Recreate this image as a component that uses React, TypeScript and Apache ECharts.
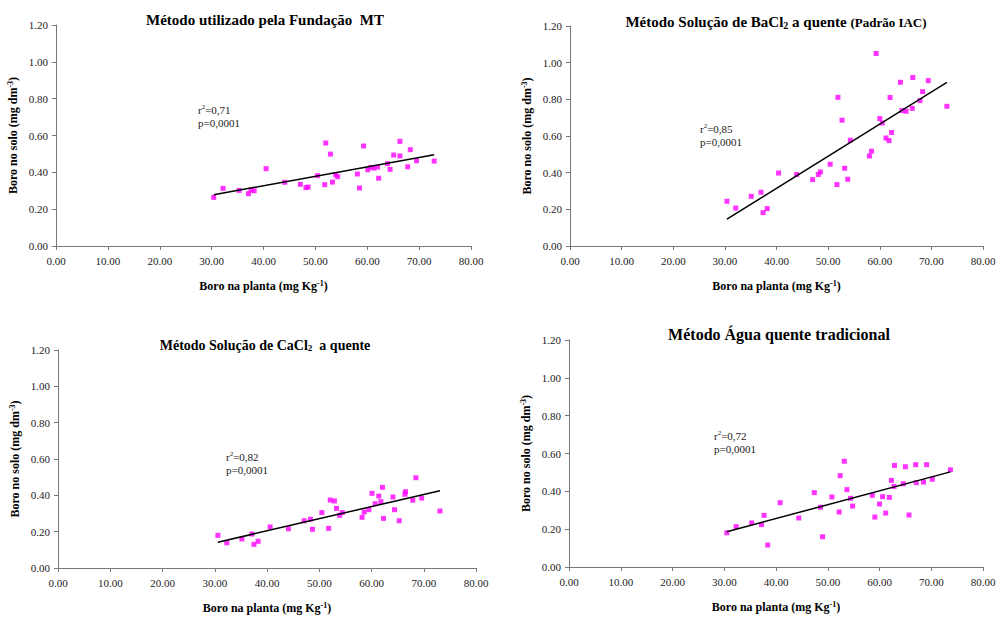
import React, { useEffect, useRef } from "react";
import * as echarts from "echarts";

const FONT = "Liberation Serif";

// Panel 1: Método utilizado pela Fundação MT
const p1x = [30.4, 32.2, 35.3, 37.1, 37.6, 38.2, 40.5, 44.1, 47.1, 48.2, 48.6, 50.4, 51.8, 52.0, 52.9, 53.3, 53.9, 54.3, 58.1, 58.5, 59.3, 60.1, 60.7, 61.3, 62.0, 62.2, 63.9, 64.4, 65.1, 66.3, 66.3, 67.8, 68.3, 69.5, 72.9];
const p1y = [0.264, 0.313, 0.302, 0.284, 0.304, 0.300, 0.420, 0.346, 0.335, 0.317, 0.320, 0.382, 0.333, 0.559, 0.499, 0.347, 0.387, 0.376, 0.391, 0.315, 0.543, 0.414, 0.427, 0.423, 0.429, 0.368, 0.447, 0.416, 0.494, 0.489, 0.568, 0.430, 0.523, 0.463, 0.461];

// Panel 2: Método Solução de BaCl2 a quente (Padrão IAC)
const p2x = [30.4, 32.1, 35.1, 37.0, 37.4, 38.2, 40.4, 43.9, 47.0, 48.1, 48.5, 50.4, 51.7, 51.9, 52.7, 53.2, 53.8, 54.3, 58.0, 58.4, 59.3, 60.0, 60.5, 61.2, 61.8, 62.3, 62.0, 64.0, 64.3, 65.1, 66.4, 66.3, 67.8, 68.3, 69.4, 73.0];
const p2y = [0.244, 0.207, 0.271, 0.293, 0.182, 0.204, 0.398, 0.390, 0.362, 0.390, 0.404, 0.446, 0.335, 0.811, 0.686, 0.424, 0.364, 0.577, 0.491, 0.517, 1.050, 0.695, 0.671, 0.589, 0.575, 0.619, 0.810, 0.893, 0.739, 0.735, 0.919, 0.751, 0.793, 0.842, 0.902, 0.762];

// Panel 3: Método Solução de CaCl2 a quente
const p3x = [30.6, 32.3, 35.2, 37.1, 37.5, 38.3, 40.6, 44.1, 47.1, 48.3, 48.7, 50.5, 51.8, 52.1, 52.9, 53.3, 53.9, 54.4, 58.2, 58.6, 59.5, 60.1, 60.7, 61.4, 61.8, 62.1, 62.3, 64.1, 64.4, 65.3, 66.4, 66.5, 67.9, 68.5, 69.6, 73.1];
const p3y = [0.180, 0.139, 0.160, 0.187, 0.130, 0.147, 0.226, 0.216, 0.260, 0.268, 0.213, 0.305, 0.218, 0.374, 0.369, 0.328, 0.290, 0.305, 0.279, 0.308, 0.321, 0.411, 0.354, 0.396, 0.365, 0.444, 0.273, 0.391, 0.321, 0.260, 0.406, 0.420, 0.373, 0.497, 0.385, 0.314];

// Panel 4: Método Água quente tradicional
const p4x = [30.5, 32.3, 35.3, 37.2, 37.7, 38.4, 40.8, 44.4, 47.4, 48.6, 49.0, 50.8, 52.2, 52.4, 53.2, 53.7, 54.4, 54.8, 58.6, 59.1, 60.0, 60.6, 61.2, 61.9, 62.3, 62.8, 62.9, 64.6, 65.0, 65.7, 67.0, 67.1, 68.5, 69.1, 70.2, 73.7];
const p4y = [0.181, 0.213, 0.233, 0.224, 0.273, 0.116, 0.340, 0.259, 0.393, 0.316, 0.160, 0.370, 0.291, 0.483, 0.559, 0.409, 0.363, 0.322, 0.379, 0.264, 0.333, 0.372, 0.285, 0.368, 0.458, 0.426, 0.537, 0.440, 0.530, 0.275, 0.541, 0.446, 0.449, 0.541, 0.464, 0.514];

const xTicks = [0, 10, 20, 30, 40, 50, 60, 70, 80];
const yTicks = [0, 0.2, 0.4, 0.6, 0.8, 1.0, 1.2];

const stats = ["0,71", "0,85", "0,82", "0,72"];
const pValues = ["0,0001", "0,0001", "0,0001", "0,0001"];

function fit(xs: number[], ys: number[]) {
  const n = xs.length;
  const mx = xs.reduce((a, b) => a + b, 0) / n;
  const my = ys.reduce((a, b) => a + b, 0) / n;
  let sxy = 0, sxx = 0;
  for (let i = 0; i < n; i++) {
    sxy += (xs[i] - mx) * (ys[i] - my);
    sxx += (xs[i] - mx) * (xs[i] - mx);
  }
  const b = sxy / sxx;
  const a = my - b * mx;
  const x0 = Math.min(...xs);
  const x1 = Math.max(...xs);
  return [[x0, a + b * x0], [x1, a + b * x1]];
}

const panels = [
  { xs: p1x, ys: p1y, grid: { left: 56, top: 25, width: 415, height: 221 } },
  { xs: p2x, ys: p2y, grid: { left: 570, top: 26, width: 413, height: 220 } },
  { xs: p3x, ys: p3y, grid: { left: 58, top: 350, width: 418, height: 218 } },
  { xs: p4x, ys: p4y, grid: { left: 569, top: 340, width: 414, height: 227 } },
];

const titleRich = (size: number) => ({
  t: { fontFamily: FONT, fontWeight: "bold", fontSize: size, fill: "#000" },
  sub: { fontFamily: FONT, fontWeight: "bold", fontSize: Math.round(size * 0.65), fill: "#000", verticalAlign: "bottom", padding: [6, 0, 0, 0] },
  s: { fontFamily: FONT, fontWeight: "bold", fontSize: 13, fill: "#000" },
});

export default function App() {
  const ref = useRef<HTMLDivElement>(null);
  useEffect(() => {
    if (!ref.current) return;
    const chart = echarts.init(ref.current, null, { renderer: "svg" });
    const nameRich = {
      b: { fontFamily: FONT, fontWeight: "bold", fontSize: 12, color: "#000", lineHeight: 14 },
      sup: { fontFamily: FONT, fontWeight: "bold", fontSize: 8, color: "#000", verticalAlign: "top", lineHeight: 14, padding: [0, 0, 6, 0] },
    };
    const grids: any[] = [];
    const xAxes: any[] = [];
    const yAxes: any[] = [];
    const series: any[] = [];
    panels.forEach((p, i) => {
      grids.push({ ...p.grid, containLabel: false });
      xAxes.push({
        gridIndex: i,
        type: "value",
        min: xTicks[0],
        max: xTicks[xTicks.length - 1],
        interval: 10,
        axisLine: { lineStyle: { color: "#777", width: 1 } },
        axisTick: { show: true, length: 4, lineStyle: { color: "#777" } },
        splitLine: { show: false },
        axisLabel: { formatter: (v: number) => v.toFixed(2), color: "#222", fontSize: 11, fontFamily: FONT, margin: 9 },
        name: "{b|Boro na planta (mg Kg}{sup|-1}{b|)}",
        nameLocation: "middle",
        nameGap: 33,
        nameTextStyle: { fontFamily: FONT, rich: nameRich },
      });
      yAxes.push({
        gridIndex: i,
        type: "value",
        min: yTicks[0],
        max: yTicks[yTicks.length - 1],
        interval: 0.2,
        axisLine: { show: true, lineStyle: { color: "#777", width: 1 } },
        axisTick: { show: true, length: 4, lineStyle: { color: "#777" } },
        splitLine: { show: false },
        axisLabel: { formatter: (v: number) => v.toFixed(2), color: "#222", fontSize: 11, fontFamily: FONT, margin: 8 },
        name: "{b|Boro no solo (mg dm}{sup|-3}{b|)}",
        nameLocation: "middle",
        nameGap: 36,
        nameTextStyle: { fontFamily: FONT, rich: nameRich },
      });
      series.push({
        type: "scatter",
        xAxisIndex: i,
        yAxisIndex: i,
        symbol: "rect",
        symbolSize: 5,
        itemStyle: { color: "#FF00FF" },
        data: p.xs.map((x, k) => [x, p.ys[k]]),
        z: 3,
      });
      series.push({
        type: "line",
        xAxisIndex: i,
        yAxisIndex: i,
        data: fit(p.xs, p.ys),
        symbol: "none",
        lineStyle: { color: "#000", width: 1.5 },
        z: 4,
      });
    });

    const annot = (x: number, y: number, i: number) => ({
      type: "text",
      x,
      y,
      style: {
        text: `{a|r}{sup|2}{a|=${stats[i]}}\n{a|p=${pValues[i]}}`,
        rich: {
          a: { fontFamily: FONT, fontSize: 11, fill: "#222", lineHeight: 13 },
          sup: { fontFamily: FONT, fontSize: 7, fill: "#222", lineHeight: 13, verticalAlign: "top", padding: [0, 0, 5, 0] },
        },
      },
    });

    const graphic: any[] = [
      { type: "text", x: 265, y: 20, style: { text: "{t|Método utilizado pela Fundação  MT}", align: "center", verticalAlign: "middle", rich: titleRich(15) } },
      { type: "text", x: 776, y: 22, style: { text: "{t|Método Solução de BaCl}{sub|2}{t| a quente }{s|(Padrão IAC)}", align: "center", verticalAlign: "middle", rich: titleRich(15) } },
      { type: "text", x: 265, y: 345, style: { text: "{t|Método Solução de CaCl}{sub|2}{t|  a quente}", align: "center", verticalAlign: "middle", rich: titleRich(14) } },
      { type: "text", x: 779, y: 334, style: { text: "{t|Método Água quente tradicional}", align: "center", verticalAlign: "middle", rich: titleRich(16) } },
      annot(198, 103, 0),
      annot(700, 122, 1),
      annot(226, 450, 2),
      annot(714, 429, 3),
    ];

    chart.setOption({
      animation: false,
      backgroundColor: "#fff",
      textStyle: { fontFamily: FONT },
      grid: grids,
      xAxis: xAxes,
      yAxis: yAxes,
      series,
      graphic,
    });
    return () => chart.dispose();
  }, []);
  return <div ref={ref} style={{ position: "fixed", left: 0, top: 0, width: 1003, height: 622 }} />;
}
